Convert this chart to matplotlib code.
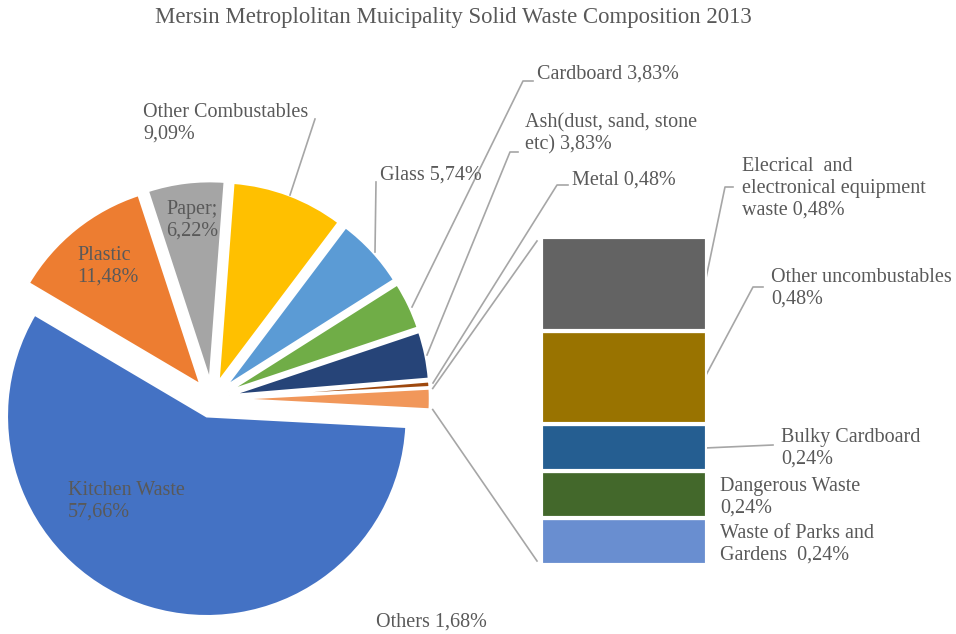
import numpy as np
import matplotlib.pyplot as plt

W, H = 956, 634

# Main pie: the last entry groups the small fractions shown in the bar
pie_labels = ['Kitchen Waste', 'Plastic', 'Paper', 'Other Combustables', 'Glass',
              'Cardboard', 'Ash(dust, sand, stone etc)', 'Metal', 'Others']
pie_values = [57.66, 11.48, 6.22, 9.09, 5.74, 3.83, 3.83, 0.48, 1.68]
pie_colors = ['#4472C4', '#ED7D31', '#A5A5A5', '#FFC000', '#5B9BD5',
              '#70AD47', '#264478', '#9E480E', '#F1975A']

# Breakdown of "Others", listed from the bottom of the bar upwards
bar_labels = ['Waste of Parks and Gardens', 'Dangerous Waste', 'Bulky Cardboard',
              'Other uncombustables', 'Elecrical and electronical equipment waste']
bar_values = [0.24, 0.24, 0.24, 0.48, 0.48]
bar_colors = ['#698ED0', '#43682B', '#255E91', '#997300', '#636363']

TXT = '#595959'
LINE = '#A6A6A6'
FONT = 'Liberation Serif'
FS = 14.5

plt.rcParams['font.family'] = FONT

fig = plt.figure(figsize=(W / 100, H / 100), dpi=100)
ax = fig.add_axes([0, 0, 1, 1])


def py(y):
    # pixel row (from top) -> data y
    return H - y


radius = 200
others_half = pie_values[-1] / sum(pie_values) * 360 / 2
wedges, _ = ax.pie(pie_values, colors=pie_colors, radius=radius, center=(212, py(399)),
                   startangle=-others_half, counterclock=False, explode=[18] * len(pie_values),
                   wedgeprops=dict(edgecolor='white', linewidth=1.8))
ax.set_xlim(0, W)
ax.set_ylim(0, H)
ax.set_aspect('auto')
ax.axis('off')

# Stacked bar for the breakdown of "Others"
bx0, bx1, by0, by1 = 541, 707, 237, 565
bar_ax = fig.add_axes([bx0 / W, (H - by1) / H, (bx1 - bx0) / W, (by1 - by0) / H])
bottom = 0
for v, c in zip(bar_values, bar_colors):
    bar_ax.bar(0, v, width=1, bottom=bottom, color=c, edgecolor='white', linewidth=3)
    bottom += v
bar_ax.set_xlim(-0.5, 0.5)
bar_ax.set_ylim(0, sum(bar_values))
bar_ax.axis('off')

# Connector lines from the "Others" wedge to the bar
w = wedges[-1]
cx, cy = w.center
inv = ax.transData.inverted()
top_corner = inv.transform(bar_ax.transAxes.transform((0, 1 - 4 / (by1 - by0))))
bot_corner = inv.transform(bar_ax.transAxes.transform((0, 4 / (by1 - by0))))
for ang, end in [(w.theta2, top_corner), (w.theta1, bot_corner)]:
    sx = cx + w.r * np.cos(np.radians(ang)) + 3
    sy = cy + w.r * np.sin(np.radians(ang))
    ax.plot([sx, end[0] - 4], [sy, end[1]], color=LINE, lw=1.2)

# Title
ax.text(453, py(18), 'Mersin Metroplolitan Muicipality Solid Waste Composition 2013',
        ha='center', va='center', fontsize=16.4, color=TXT)


def label(x, y, s, ha='left'):
    ax.text(x, py(y), s, ha=ha, va='center', fontsize=FS, color=TXT, linespacing=1.2)


def leader(pts):
    xs = [p[0] for p in pts]
    ys = [py(p[1]) for p in pts]
    ax.plot(xs, ys, color=LINE, lw=1.2)


def pct(v):
    return f'{v:.2f}'.replace('.', ',') + '%'


# Labels inside the pie
label(68, 501, f'{pie_labels[0]}\n{pct(pie_values[0])}')
label(77, 266, f'{pie_labels[1]}\n{pct(pie_values[1])}')
label(166, 220, f'{pie_labels[2]};\n{pct(pie_values[2])}')

# Labels outside the pie with leader lines
label(143, 123, f'{pie_labels[3]}\n{pct(pie_values[3])}')
leader([(315, 119), (290, 195)])
label(380, 175, f'{pie_labels[4]} {pct(pie_values[4])}')
leader([(376, 182), (375, 252)])
label(537, 74, f'{pie_labels[5]} {pct(pie_values[5])}')
leader([(533, 81), (523, 81), (412, 307)])
label(525, 134, f'Ash(dust, sand, stone\netc) {pct(pie_values[6])}')
leader([(518, 152), (510, 152), (427, 355)])
label(572, 180, f'{pie_labels[7]} {pct(pie_values[7])}')
leader([(568, 185), (557, 185), (433, 383)])
label(376, 622, f'{pie_labels[8]} {pct(pie_values[8])}')

# Labels for the bar segments
label(742, 188, f'Elecrical  and\nelectronical equipment\nwaste {pct(bar_values[4])}')
leader([(733, 187), (725, 187), (705, 283)])
label(771, 288, f'{bar_labels[3]}\n{pct(bar_values[3])}')
leader([(763, 287), (753, 287), (705, 377)])
label(781, 448, f'{bar_labels[2]}\n{pct(bar_values[2])}')
leader([(773, 445), (705, 448)])
label(720, 497, f'{bar_labels[1]}\n{pct(bar_values[1])}')
label(720, 544, f'Waste of Parks and\nGardens  {pct(bar_values[0])}')

fig.savefig('out.png', dpi=100)
